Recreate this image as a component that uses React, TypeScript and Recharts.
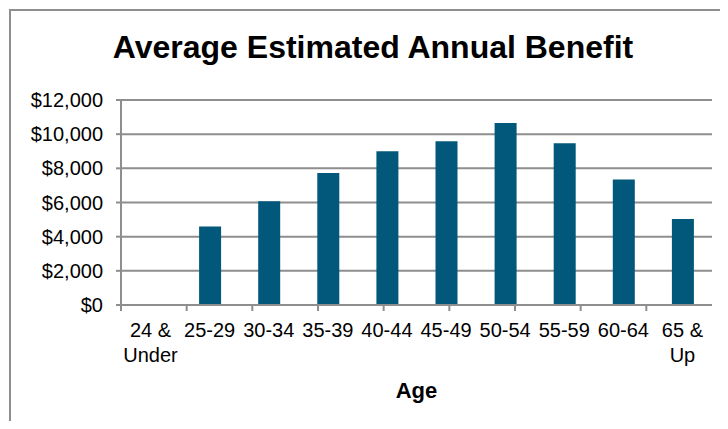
import { BarChart, Bar, XAxis, YAxis, CartesianGrid, Label } from 'recharts';

const AGE_GROUPS = ['24 &\nUnder', '25-29', '30-34', '35-39', '40-44', '45-49', '50-54', '55-59', '60-64', '65 &\nUp'];
const BENEFIT = [0, 4590, 6070, 7720, 9000, 9590, 10650, 9470, 7350, 5040];
const Y_TICKS = [0, 2000, 4000, 6000, 8000, 10000, 12000];
const EDGE_TICKS = [0, 1, 2, 3, 4, 5, 6, 7, 8, 9, 10];

const BAR_COLOR = '#01587a';
const LINE_COLOR = '#8e8e8e';
const FONT = '"Liberation Sans", Arial, sans-serif';

const data = AGE_GROUPS.map((age, i) => ({ age, benefit: BENEFIT[i] }));

function AgeTick({ x, y, payload }: any) {
  const lines = String(payload.value).split('\n');
  return (
    <text x={x} y={y} textAnchor="middle" fill="#000" fontSize={20} fontFamily={FONT}>
      {lines.map((line, i) => (
        <tspan key={i} x={x} dy={i === 0 ? 24 : 25}>
          {line}
        </tspan>
      ))}
    </text>
  );
}

export default function App() {
  return (
    <div style={{ position: 'relative', width: 728, height: 429, margin: -8, overflow: 'hidden', background: '#fff' }}>
      <div
        style={{
          position: 'absolute',
          left: 9,
          top: 9,
          width: 800,
          height: 500,
          borderLeft: `2px solid ${LINE_COLOR}`,
          borderTop: `2px solid ${LINE_COLOR}`,
        }}
      />
      <div
        style={{
          position: 'absolute',
          left: 0,
          top: 31,
          width: 746,
          textAlign: 'center',
          fontFamily: FONT,
          fontWeight: 'bold',
          fontSize: 32,
          lineHeight: '32px',
          color: '#000',
        }}
      >
        Average Estimated Annual Benefit
      </div>
      <div style={{ position: 'absolute', left: 0, top: 0 }}>
        <BarChart width={728} height={429} data={data} margin={{ top: 100, right: 16, bottom: 24, left: 0 }}>
          <CartesianGrid vertical={false} stroke={LINE_COLOR} strokeWidth={2} />
          <XAxis
            dataKey="age"
            interval={0}
            height={100}
            tickLine={false}
            axisLine={{ stroke: LINE_COLOR, strokeWidth: 2 }}
            tick={<AgeTick />}
          >
            <Label
              value="Age"
              position="insideBottom"
              offset={7}
              style={{ fontFamily: FONT, fontWeight: 'bold', fontSize: 22, fill: '#000' }}
            />
          </XAxis>
          <XAxis
            xAxisId="edge"
            type="number"
            domain={[0, 10]}
            ticks={EDGE_TICKS}
            mirror
            height={1}
            axisLine={false}
            tickSize={-6}
            tickLine={{ stroke: LINE_COLOR, strokeWidth: 2 }}
            tick={() => <g />}
          />
          <YAxis
            width={121}
            domain={[0, 12000]}
            ticks={Y_TICKS}
            tickSize={5}
            tickMargin={13}
            tickLine={{ stroke: LINE_COLOR, strokeWidth: 2 }}
            axisLine={{ stroke: LINE_COLOR, strokeWidth: 2 }}
            tick={{ fill: '#000', fontSize: 20, fontFamily: FONT }}
            tickFormatter={(v: number) => `$${v.toLocaleString('en-US')}`}
          />
          <Bar dataKey="benefit" fill={BAR_COLOR} barSize={22} isAnimationActive={false} />
        </BarChart>
      </div>
    </div>
  );
}
